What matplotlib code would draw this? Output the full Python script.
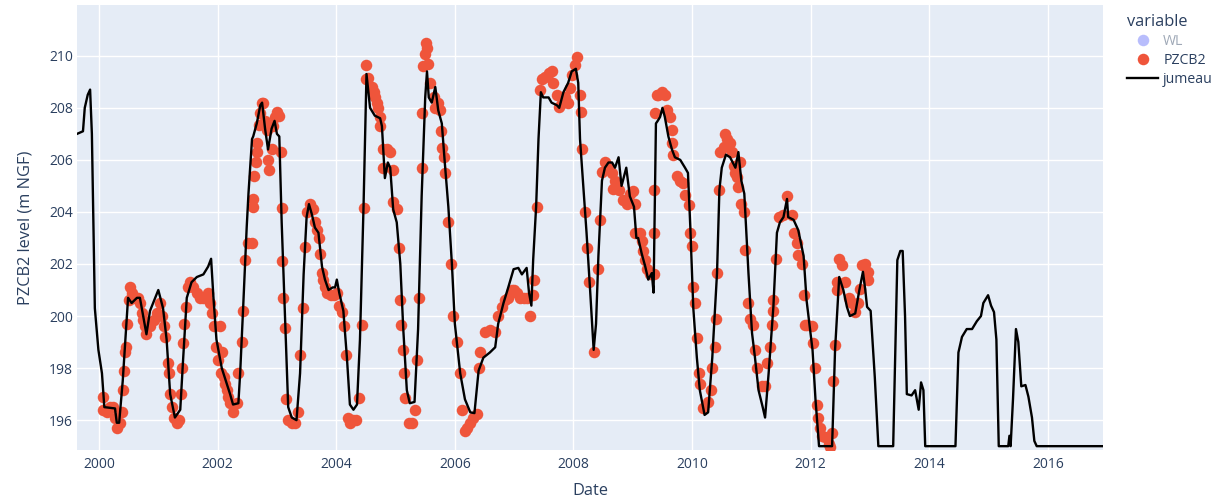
## Plotly-style time series: observed PZCB2 levels (points) vs "jumeau" model (line)

import numpy as np
import pandas as pd
import matplotlib
matplotlib.use("Agg")
import matplotlib.pyplot as plt
import matplotlib.dates as mdates
from matplotlib.lines import Line2D

## jumeau (black line): decimal year, level (m NGF)
jum_year = [1999.63, 1999.68, 1999.73, 1999.76, 1999.81, 1999.85, 1999.88, 1999.93, 1999.99, 2000.05,
            2000.09, 2000.27, 2000.30, 2000.34, 2000.40, 2000.49, 2000.55, 2000.64, 2000.69, 2000.80,
            2000.86, 2001.00, 2001.08, 2001.14, 2001.20, 2001.28, 2001.37, 2001.42, 2001.48, 2001.56,
            2001.65, 2001.76, 2001.84, 2001.89, 2001.93, 2001.98, 2002.07, 2002.21, 2002.26, 2002.35,
            2002.38, 2002.43, 2002.49, 2002.52, 2002.58, 2002.60, 2002.66, 2002.72, 2002.75, 2002.80,
            2002.85, 2002.91, 2002.96, 2003.00, 2003.04, 2003.08, 2003.14, 2003.19, 2003.25, 2003.33,
            2003.39, 2003.45, 2003.50, 2003.54, 2003.59, 2003.64, 2003.70, 2003.76, 2003.81, 2003.87,
            2003.94, 2003.98, 2004.01, 2004.05, 2004.12, 2004.18, 2004.23, 2004.29, 2004.35, 2004.40,
            2004.46, 2004.51, 2004.57, 2004.65, 2004.74, 2004.77, 2004.82, 2004.87, 2004.91, 2004.96,
            2005.02, 2005.08, 2005.13, 2005.19, 2005.24, 2005.32, 2005.38, 2005.44, 2005.50, 2005.53,
            2005.56, 2005.61, 2005.67, 2005.72, 2005.78, 2005.83, 2005.89, 2005.95, 2006.00, 2006.09,
            2006.17, 2006.26, 2006.33, 2006.40, 2006.48, 2006.59, 2006.68, 2006.73, 2006.82, 2006.90,
            2006.99, 2007.07, 2007.13, 2007.21, 2007.25, 2007.29, 2007.32, 2007.37, 2007.41, 2007.45,
            2007.49, 2007.58, 2007.63, 2007.72, 2007.76, 2007.83, 2007.91, 2007.97, 2008.04, 2008.08,
            2008.11, 2008.17, 2008.22, 2008.28, 2008.34, 2008.38, 2008.42, 2008.48, 2008.53, 2008.59,
            2008.65, 2008.70, 2008.76, 2008.81, 2008.89, 2008.95, 2009.02, 2009.06, 2009.09, 2009.15,
            2009.21, 2009.26, 2009.32, 2009.35, 2009.39, 2009.42, 2009.46, 2009.50, 2009.54, 2009.60,
            2009.66, 2009.71, 2009.80, 2009.88, 2009.93, 2009.97, 2010.02, 2010.08, 2010.13, 2010.21,
            2010.27, 2010.34, 2010.42, 2010.46, 2010.50, 2010.57, 2010.64, 2010.73, 2010.78, 2010.83,
            2010.88, 2010.95, 2011.01, 2011.06, 2011.12, 2011.19, 2011.23, 2011.29, 2011.37, 2011.43,
            2011.48, 2011.54, 2011.60, 2011.62, 2011.71, 2011.79, 2011.88, 2011.93, 2012.03, 2012.08,
            2012.14, 2012.36, 2012.41, 2012.48, 2012.55, 2012.61, 2012.66, 2012.75, 2012.82, 2012.88,
            2012.92, 2012.95, 2013.01, 2013.08, 2013.14, 2013.39, 2013.46, 2013.51, 2013.55, 2013.59,
            2013.62, 2013.70, 2013.76, 2013.82, 2013.86, 2013.90, 2013.93, 2014.44, 2014.49, 2014.55,
            2014.63, 2014.72, 2014.80, 2014.87, 2014.91, 2014.99, 2015.04, 2015.09, 2015.13, 2015.17,
            2015.33, 2015.35, 2015.37, 2015.41, 2015.46, 2015.50, 2015.55, 2015.62, 2015.67, 2015.73,
            2015.77, 2015.81, 2016.93]
jum_level = [207.0, 207.05, 207.1, 208.0, 208.5, 208.7, 207.0, 200.3, 198.7, 197.8,
             196.5, 196.45, 195.9, 195.9, 197.5, 200.7, 200.5, 200.7, 200.7, 199.3,
             200.2, 201.0, 200.3, 199.1, 197.0, 196.1, 196.4, 198.4, 200.7, 201.3,
             201.5, 201.6, 201.9, 202.2, 200.7, 199.1, 198.0, 197.0, 196.6, 196.65,
             197.8, 200.3, 203.4, 204.7, 206.8, 206.9, 207.4, 208.1, 208.2, 207.2,
             206.4, 207.2, 207.5, 207.0, 206.9, 203.6, 199.7, 196.5, 196.1, 196.0,
             197.8, 201.6, 203.8, 204.3, 203.9, 203.4, 203.2, 201.9, 201.4, 201.0,
             201.1, 201.1, 201.4, 200.9, 200.2, 198.4, 196.6, 196.4, 196.6, 199.1,
             204.2, 209.3, 208.0, 207.7, 207.6, 207.3, 205.3, 205.9, 205.7, 204.1,
             203.6, 202.0, 199.5, 197.15, 196.65, 196.7, 199.5, 204.6, 208.4, 209.4,
             208.4, 208.2, 208.8, 207.9, 207.4, 205.9, 204.2, 202.0, 199.7, 197.8,
             196.8, 196.3, 196.27, 197.9, 198.4, 198.6, 198.8, 199.7, 200.5, 201.1,
             201.8, 201.85, 201.6, 201.85, 200.9, 200.4, 202.15, 204.2, 206.8, 208.6,
             208.4, 208.4, 208.2, 208.1, 208.0, 208.6, 208.96, 209.4, 209.5, 208.96,
             206.8, 204.85, 203.2, 201.0, 198.7, 199.7, 202.3, 205.2, 205.7, 205.9,
             205.9, 205.7, 206.1, 205.0, 205.7, 204.6, 204.2, 203.0, 203.0, 202.4,
             201.9, 201.4, 201.65, 200.9, 207.4, 207.5, 207.65, 208.0, 207.65, 206.9,
             206.4, 206.1, 206.0, 205.7, 205.5, 203.4, 200.3, 198.4, 197.15, 196.2,
             196.3, 198.4, 201.65, 204.85, 205.7, 206.2, 206.1, 205.7, 206.3, 205.2,
             204.7, 201.65, 199.35, 198.4, 197.15, 196.5, 196.1, 197.8, 200.35, 203.2,
             203.6, 203.8, 204.5, 203.8, 203.7, 203.3, 202.3, 200.6, 198.7, 196.8,
             195.0, 195.0, 198.7, 201.5, 201.0, 200.35, 200.0, 200.1, 201.0, 201.7,
             201.0, 200.35, 200.2, 197.65, 195.0, 195.0, 202.15, 202.5, 202.5, 200.0,
             197.0, 196.95, 197.15, 196.4, 197.45, 197.15, 195.0, 195.0, 198.6, 199.2,
             199.5, 199.5, 199.8, 200.0, 200.5, 200.8, 200.4, 200.15, 199.1, 195.0,
             195.0, 195.4, 195.0, 196.8, 199.5, 199.0, 197.3, 197.35, 196.9, 196.1,
             195.2, 195.0, 195.0]

## PZCB2 observations (red points): decimal year, level (m NGF)
obs_year = [2000.07, 2000.07, 2000.13, 2000.19, 2000.24, 2000.27, 2000.30, 2000.35, 2000.38, 2000.41,
            2000.43, 2000.44, 2000.46, 2000.47, 2000.51, 2000.52, 2000.56, 2000.61, 2000.65, 2000.69,
            2000.72, 2000.75, 2000.78, 2000.80, 2000.86, 2000.92, 2000.97, 2001.03, 2001.07, 2001.10,
            2001.12, 2001.16, 2001.18, 2001.20, 2001.23, 2001.27, 2001.31, 2001.35, 2001.39, 2001.40,
            2001.42, 2001.44, 2001.46, 2001.50, 2001.53, 2001.59, 2001.65, 2001.70, 2001.76, 2001.84,
            2001.87, 2001.90, 2001.94, 2001.98, 2002.01, 2002.04, 2002.06, 2002.07, 2002.10, 2002.12,
            2002.15, 2002.18, 2002.21, 2002.26, 2002.32, 2002.35, 2002.41, 2002.43, 2002.46, 2002.52,
            2002.58, 2002.59, 2002.60, 2002.62, 2002.64, 2002.66, 2002.66, 2002.69, 2002.72, 2002.74,
            2002.77, 2002.80, 2002.83, 2002.85, 2002.87, 2002.91, 2002.94, 2002.97, 2003.00, 2003.04,
            2003.07, 2003.08, 2003.09, 2003.11, 2003.14, 2003.15, 2003.19, 2003.25, 2003.31, 2003.36,
            2003.39, 2003.44, 2003.47, 2003.50, 2003.56, 2003.61, 2003.64, 2003.68, 2003.71, 2003.73,
            2003.76, 2003.78, 2003.81, 2003.85, 2003.91, 2003.96, 2004.02, 2004.05, 2004.09, 2004.13,
            2004.17, 2004.20, 2004.23, 2004.28, 2004.33, 2004.39, 2004.43, 2004.46, 2004.50, 2004.51,
            2004.54, 2004.60, 2004.63, 2004.65, 2004.68, 2004.71, 2004.74, 2004.74, 2004.79, 2004.85,
            2004.91, 2004.79, 2004.96, 2004.96, 2005.02, 2005.05, 2005.08, 2005.10, 2005.13, 2005.15,
            2005.16, 2005.22, 2005.27, 2005.33, 2005.36, 2005.40, 2005.44, 2005.44, 2005.47, 2005.50,
            2005.51, 2005.53, 2005.55, 2005.58, 2005.64, 2005.67, 2005.72, 2005.75, 2005.77, 2005.78,
            2005.81, 2005.83, 2005.89, 2005.94, 2005.97, 2006.03, 2006.09, 2006.12, 2006.17, 2006.20,
            2006.26, 2006.31, 2006.37, 2006.40, 2006.42, 2006.51, 2006.59, 2006.68, 2006.73, 2006.79,
            2006.85, 2006.90, 2006.96, 2006.99, 2007.04, 2007.10, 2007.16, 2007.21, 2007.27, 2007.32,
            2007.34, 2007.38, 2007.43, 2007.47, 2007.52, 2007.58, 2007.63, 2007.66, 2007.72, 2007.75,
            2007.80, 2007.86, 2007.91, 2007.94, 2007.97, 2008.03, 2008.06, 2008.11, 2008.12, 2008.14,
            2008.20, 2008.23, 2008.26, 2008.35, 2008.42, 2008.45, 2008.48, 2008.53, 2008.59, 2008.65,
            2008.70, 2008.67, 2008.76, 2008.84, 2008.90, 2008.95, 2009.01, 2009.04, 2009.04, 2009.12,
            2009.15, 2009.17, 2009.21, 2009.24, 2009.29, 2009.36, 2009.36, 2009.36, 2009.38, 2009.40,
            2009.43, 2009.49, 2009.54, 2009.57, 2009.63, 2009.66, 2009.66, 2009.68, 2009.74, 2009.80,
            2009.85, 2009.88, 2009.94, 2009.97, 2010.00, 2010.02, 2010.05, 2010.08, 2010.11, 2010.13,
            2010.19, 2010.27, 2010.32, 2010.34, 2010.39, 2010.40, 2010.42, 2010.46, 2010.47, 2010.53,
            2010.56, 2010.59, 2010.64, 2010.67, 2010.70, 2010.73, 2010.75, 2010.81, 2010.78, 2010.83,
            2010.87, 2010.89, 2010.95, 2010.98, 2011.03, 2011.06, 2011.09, 2011.18, 2011.23, 2011.26,
            2011.32, 2011.34, 2011.37, 2011.37, 2011.41, 2011.46, 2011.54, 2011.60, 2011.68, 2011.71,
            2011.77, 2011.79, 2011.85, 2011.88, 2011.91, 2011.93, 2012.02, 2012.04, 2012.07, 2012.10,
            2012.13, 2012.16, 2012.19, 2012.24, 2012.30, 2012.33, 2012.36, 2012.38, 2012.41, 2012.44,
            2012.44, 2012.48, 2012.52, 2012.58, 2012.64, 2012.69, 2012.75, 2012.80, 2012.83, 2012.86,
            2012.92, 2012.97, 2012.97]
obs_level = [196.9, 196.4, 196.3, 196.5, 196.5, 196.1, 195.7, 195.9, 196.3, 197.15,
             197.9, 198.6, 198.8, 199.7, 200.6, 201.1, 200.9, 200.7, 200.7, 200.5,
             200.1, 199.85, 199.6, 199.3, 199.6, 199.85, 200.1, 200.5, 200.0, 199.6,
             199.2, 198.2, 197.8, 197.0, 196.5, 196.1, 195.9, 196.0, 197.0, 198.0,
             198.95, 199.7, 200.35, 201.1, 201.3, 201.1, 200.9, 200.7, 200.7, 200.9,
             200.5, 200.1, 199.6, 198.8, 198.3, 199.6, 197.8, 198.6, 197.65, 197.4,
             197.15, 196.9, 196.65, 196.3, 196.65, 197.8, 199.0, 200.2, 202.15, 202.8,
             202.8, 204.2, 204.5, 205.4, 205.9, 206.3, 206.65, 207.35, 207.8, 208.2,
             208.2, 207.5, 207.15, 206.0, 205.6, 206.4, 207.3, 207.65, 207.85, 207.7,
             206.3, 204.15, 202.1, 200.7, 199.55, 196.8, 196.0, 195.9, 195.9, 196.3,
             198.5, 200.3, 202.65, 204.0, 204.3, 204.1, 203.6, 203.3, 203.0, 202.4,
             201.65, 201.4, 201.1, 200.9, 200.8, 200.8, 200.9, 200.4, 200.15, 199.6,
             198.5, 196.1, 195.9, 196.0, 196.0, 196.85, 199.65, 204.15, 209.65, 209.1,
             209.15, 208.8, 208.6, 208.4, 208.2, 208.0, 207.65, 207.3, 206.4, 206.4,
             206.3, 205.7, 205.6, 204.4, 204.1, 202.6, 200.6, 199.65, 198.7, 197.8,
             196.85, 195.9, 195.9, 196.4, 198.3, 200.7, 205.7, 207.8, 209.6, 210.05,
             210.5, 210.3, 209.7, 208.95, 208.4, 208.0, 208.2, 207.9, 207.1, 206.45,
             206.1, 205.5, 203.6, 202.0, 200.0, 199.0, 197.8, 196.4, 195.6, 195.7,
             195.9, 196.1, 196.25, 198.0, 198.6, 199.4, 199.45, 199.4, 200.0, 200.35,
             200.6, 200.7, 201.0, 201.0, 200.9, 200.7, 200.7, 200.7, 200.0, 200.8,
             201.4, 204.2, 208.7, 209.1, 209.2, 209.35, 209.4, 208.95, 208.5, 208.05,
             208.2, 208.4, 208.2, 208.75, 209.25, 209.65, 209.95, 208.5, 207.85, 206.4,
             204.0, 202.6, 201.3, 198.6, 201.8, 203.7, 205.55, 205.9, 205.7, 205.5,
             205.2, 204.9, 204.85, 204.45, 204.3, 204.7, 204.8, 204.3, 203.2, 203.2,
             202.9, 202.5, 202.15, 201.8, 201.6, 201.6, 203.2, 204.85, 207.8, 208.5,
             208.5, 208.6, 208.5, 207.9, 207.65, 207.15, 206.65, 206.2, 205.4, 205.2,
             205.1, 204.65, 204.25, 203.2, 202.7, 201.1, 200.5, 199.15, 197.8, 197.4,
             196.45, 196.7, 197.15, 198.0, 198.8, 199.9, 201.65, 204.85, 206.3, 206.5,
             207.0, 206.8, 206.65, 206.3, 205.75, 205.5, 205.35, 205.9, 204.95, 204.3,
             204.0, 202.55, 200.5, 199.9, 199.65, 198.7, 198.0, 197.3, 197.3, 198.2,
             198.8, 199.65, 200.2, 200.6, 202.2, 203.8, 203.9, 204.6, 203.9, 203.2,
             202.8, 202.35, 202.0, 200.8, 199.65, 199.65, 199.6, 198.95, 198.0, 196.6,
             196.1, 195.7, 195.4, 195.35, 195.1, 194.95, 195.5, 197.5, 198.9, 201.0,
             201.3, 202.2, 201.95, 201.3, 200.7, 200.5, 200.15, 200.5, 201.05, 201.95,
             202.0, 201.7, 201.4]

y_ticks = [196, 198, 200, 202, 204, 206, 208, 210]


def to_dates(years):
    years = np.asarray(years, dtype=float)
    return pd.Timestamp("2000-01-01") + pd.to_timedelta((years - 2000) * 365.25, unit="D")


font = "Open Sans"
txt_col = "#2a3f5f"

fig = plt.figure(figsize=(12.23, 5.04), dpi=100)
ax = fig.add_axes([0.063, 0.107, 0.839, 0.883])
ax.set_facecolor("#E5ECF6")
for s in ax.spines.values():
    s.set_visible(False)
ax.grid(True, color="white", lw=1)
ax.set_axisbelow(True)

ax.plot(to_dates(obs_year), obs_level, "o", ms=8.3, color="#EF553B", mew=0, zorder=2)
ax.plot(to_dates(jum_year), jum_level, "-", color="black", lw=1.7, zorder=3)

ax.set_xlim(to_dates([1999.63])[0], to_dates([2016.93])[0])
ax.set_ylim(194.85, 211.95)
ax.set_yticks(y_ticks)
ax.xaxis.set_major_locator(mdates.YearLocator(2))
ax.xaxis.set_major_formatter(mdates.DateFormatter("%Y"))
ax.tick_params(axis="y", length=0, labelsize=10, labelcolor=txt_col, pad=3)
ax.tick_params(axis="x", length=0, labelsize=10, labelcolor=txt_col, pad=5)
for lab in ax.get_xticklabels() + ax.get_yticklabels():
    lab.set_fontfamily(font)

ax.set_xlabel("Date", fontsize=11.8, color=txt_col, family=font, labelpad=8)
ax.set_ylabel("PZCB2 level (m NGF)", fontsize=11.8, color=txt_col, family=font, labelpad=11)

handles = [
    Line2D([], [], ls="none", marker="o", ms=8.3, color="#636efa", mew=0, alpha=0.45),
    Line2D([], [], ls="none", marker="o", ms=8.3, color="#EF553B", mew=0),
    Line2D([], [], color="black", lw=1.7),
]
leg = ax.legend(handles, ["WL", "PZCB2", "jumeau"], title="variable", loc="upper left",
                bbox_to_anchor=(1.015, 1.0), frameon=False, handlelength=2.2,
                handletextpad=0.35, labelspacing=0.3, borderaxespad=0.2,
                prop={"family": font, "size": 10.2}, alignment="left")
leg.get_title().set_fontfamily(font)
leg.get_title().set_fontsize(11.8)
leg.get_title().set_color(txt_col)
for i, t in enumerate(leg.get_texts()):
    t.set_color(txt_col)
    if i == 0:
        t.set_alpha(0.45)

fig.savefig("out.png", dpi=100)
